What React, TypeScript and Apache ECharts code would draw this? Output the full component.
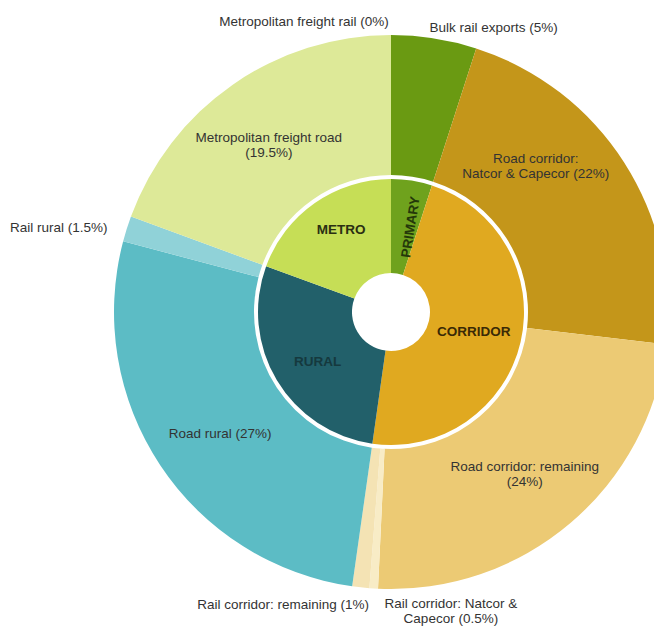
import React, { useEffect, useRef } from 'react';
import * as echarts from 'echarts';

// Inner ring (groups)
const innerCategories = ['PRIMARY', 'CORRIDOR', 'RURAL', 'METRO'];
const innerValues = [5, 47.5, 28.5, 19.5];

// Outer ring (flows), clockwise from 12 o'clock
const outerCategories = [
  'Bulk rail exports',
  'Road corridor: Natcor & Capecor',
  'Road corridor: remaining',
  'Rail corridor: Natcor & Capecor',
  'Rail corridor: remaining',
  'Road rural',
  'Rail rural',
  'Metropolitan freight road',
  'Metropolitan freight rail',
];
const outerValues = [5, 22, 24, 0.5, 1, 27, 1.5, 19.5, 0];
const outerLabelTexts = [
  'Bulk rail exports (5%)',
  'Road corridor:\nNatcor & Capecor (22%)',
  'Road corridor: remaining\n(24%)',
  'Rail corridor: Natcor &\nCapecor (0.5%)',
  'Rail corridor: remaining (1%)',
  'Road rural (27%)',
  'Rail rural (1.5%)',
  'Metropolitan freight road\n(19.5%)',
  'Metropolitan freight rail (0%)',
];

// styles
const innerColors: Record<string, string> = {
  PRIMARY: '#6fa21d',
  CORRIDOR: '#e0a920',
  RURAL: '#22606a',
  METRO: '#c6de56',
};
const innerTextColors: Record<string, string> = {
  PRIMARY: '#24380a',
  CORRIDOR: '#3a2a06',
  RURAL: '#15393e',
  METRO: '#2a2f12',
};
const outerColors = [
  '#6a9a12',
  '#c4961a',
  '#ecca74',
  '#f8ecc6',
  '#f4e3b4',
  '#5cbcc5',
  '#90d2d8',
  '#dde998',
  '#dde998',
];
// label shifts [dx, dy] from the default in-slice anchor
const innerShift: [number, number][] = [
  [-2, 6],
  [-4, 0],
  [3, 4],
  [1, -10],
];
const outerShift: [number, number][] = [
  [70, -77],
  [-32, -33],
  [-2, 2],
  [73, 89],
  [-85, 84],
  [4, 5],
  [-132, -21],
  [-2, 5],
  [-87, -81],
];

const FONT = '"Liberation Sans", Arial, Helvetica, sans-serif';

export default function App() {
  const ref = useRef<HTMLDivElement>(null);
  useEffect(() => {
    document.body.style.margin = '0';
    const chart = echarts.init(ref.current!, undefined, { renderer: 'svg' });
    chart.setOption({
      animation: false,
      backgroundColor: '#ffffff',
      textStyle: { fontFamily: FONT },
      series: [
        {
          type: 'pie',
          radius: [39, 133],
          center: [391, 312],
          startAngle: 90,
          clockwise: true,
          avoidLabelOverlap: false,
          silent: true,
          emphasis: { disabled: true },
          labelLine: { show: false },
          label: {
            show: true,
            position: 'inside',
            fontSize: 13.5,
            fontWeight: 'bold',
            fontFamily: FONT,
          },
          labelLayout: (p: any) => ({
            dx: innerShift[p.dataIndex][0],
            dy: innerShift[p.dataIndex][1],
          }),
          data: innerCategories.map((n, i) => ({
            name: n,
            value: innerValues[i],
            itemStyle: { color: innerColors[n] },
            label: {
              formatter: n,
              rotate: n === 'PRIMARY' ? 81 : 0,
              color: innerTextColors[n],
            },
          })),
        },
        {
          type: 'pie',
          radius: [137, 277],
          center: [391, 312],
          startAngle: 90,
          clockwise: true,
          avoidLabelOverlap: false,
          silent: true,
          emphasis: { disabled: true },
          labelLine: { show: false },
          label: {
            show: true,
            position: 'inside',
            fontSize: 13.5,
            lineHeight: 15,
            color: '#333333',
            fontFamily: FONT,
          },
          labelLayout: (p: any) => ({
            dx: outerShift[p.dataIndex][0],
            dy: outerShift[p.dataIndex][1],
          }),
          data: outerCategories.map((n, i) => ({
            name: n,
            value: outerValues[i],
            itemStyle: { color: outerColors[i] },
            label: {
              formatter: outerLabelTexts[i],
            },
          })),
        },
      ],
    });
    return () => chart.dispose();
  }, []);
  return <div ref={ref} style={{ width: 654, height: 626 }} />;
}
